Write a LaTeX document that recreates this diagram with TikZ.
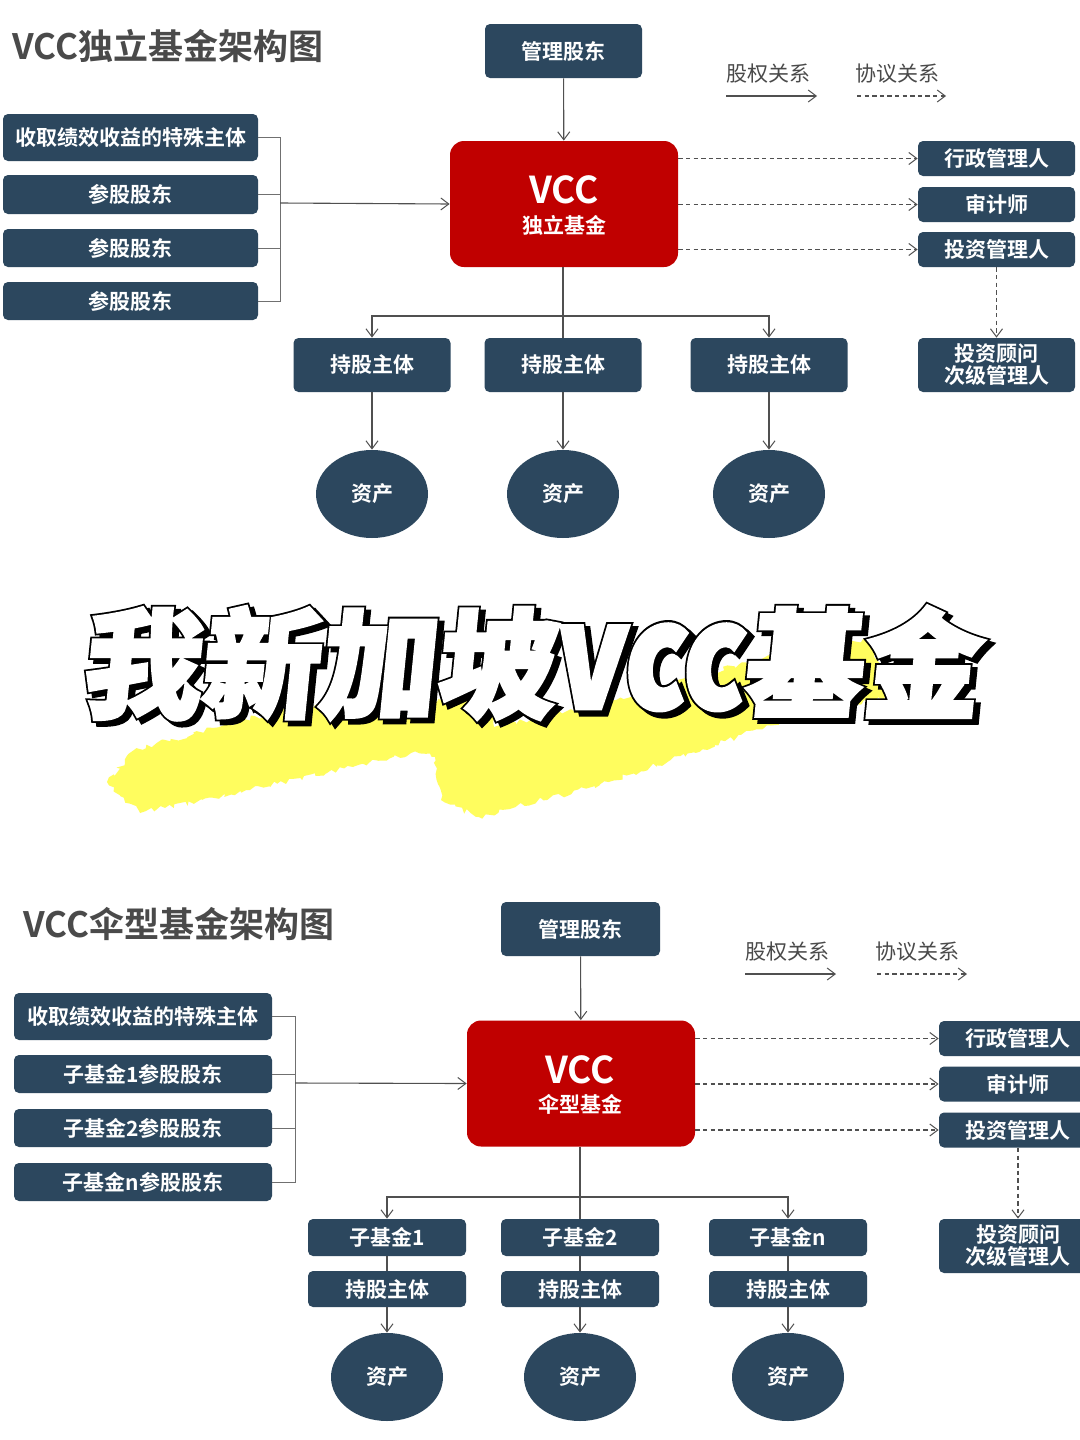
\documentclass[tikz,border=0pt]{standalone}
\usepackage{fontspec}
\usetikzlibrary{arrows.meta,shapes.geometric,decorations.pathmorphing}
\setmainfont{Noto Sans CJK SC}
\newfontfamily\cjkreg{Noto Sans CJK SC}
\newfontfamily\cjkb{Noto Sans CJK SC Bold}
\newfontfamily\bigwhite[FakeSlant=0.1,FakeBold=3]{Noto Sans CJK SC Black}
\newfontfamily\bigblack[FakeSlant=0.1,FakeBold=6]{Noto Sans CJK SC Black}
\newcommand{\bigtext}{我新加坡\scalebox{0.98}[1.22]{vcc}基金}
\definecolor{navy}{HTML}{2C475E}
\definecolor{vred}{HTML}{C00000}
\definecolor{wire}{HTML}{505050}
\definecolor{wirelight}{HTML}{707070}
\definecolor{ttl}{HTML}{4A4A4A}
\definecolor{brush}{HTML}{FFFD5E}
\tikzset{
 >={Straight Barb[length=4pt,width=6pt,line width=.5pt]},
 base/.style={fill=navy,rounded corners=2.5pt,inner sep=0pt,text=white,align=center,font=\cjkb\fontsize{10.5}{12.5}\selectfont},
 box/.style n args={2}{base,minimum width=#1*0.5pt,minimum height=#2*0.5pt},
 asset/.style={ellipse,fill=navy,inner sep=0pt,text=white,minimum width=56pt,minimum height=44pt,font=\cjkb\fontsize{10.5}{12.5}\selectfont},
 fund/.style={fill=vred,rounded corners=7pt,inner sep=0pt,minimum width=114pt,minimum height=63pt,text=white},
 wirel/.style={draw=wire,line width=.55pt},
 bracket/.style={draw=wirelight,line width=.5pt},
 agree/.style={draw=wire,line width=.62pt,dash pattern=on 2.2pt off 1.6pt,->},
 head/.style={text=ttl,inner sep=0pt,font=\cjkb\fontsize{17.5}{20}\selectfont},
 legend/.style={text=ttl,inner sep=0pt,font=\cjkreg\fontsize{10.5}{12.5}\selectfont},
}
\begin{document}
\begin{tikzpicture}[x=0.5pt,y=-0.5pt]
\useasboundingbox (0,0) rectangle (1080,1440);
\clip (0,0) rectangle (1080,1440);
\fill[white] (0,0) rectangle (1080,1440);
% brush
\fill[brush,decorate,decoration={random steps,segment length=2pt,amplitude=1.4pt}]
 (107,782) -- (134,750) -- (300,705) -- (494,700) -- (494,727) -- (614,700) -- (755,660) -- (872,640) -- (885,697) -- (780,722) -- (600,785) -- (478,817) -- (441,800) -- (435,757) -- (411,753) -- (250,790) -- (140,813) -- cycle;
% big title
\node[inner sep=0pt,text=black] (bs) at (535,667) {\bigblack\fontsize{59}{60}\selectfont\bigtext};
\node[inner sep=0pt,text=black] (bt) at (530,663) {\bigblack\fontsize{59}{60}\selectfont\bigtext};
\node[inner sep=0pt,text=white] (bw) at (530,663) {\bigwhite\fontsize{59}{60}\selectfont\bigtext};

%% ---------- upper chart
\node[head,anchor=west] (titleA) at (12,46) {VCC独立基金架构图};
\node[box={157}{54}] (mgrA) at (563.5,51) {管理股东};
\node[fund] (vccA) at (564,204) {};
\node[inner sep=0pt,text=white,font=\cjkb\fontsize{18.5}{22}\selectfont] (vccAa) at (564,190) {VCC};
\node[inner sep=0pt,text=white,font=\cjkb\fontsize{10.5}{12.5}\selectfont] (vccAb) at (564,225) {独立基金};
\node[box={255}{47}] (sA1) at (130.5,137.5) {收取绩效收益的特殊主体};
\node[box={255}{39}] (sA2) at (130.5,194.5) {参股股东};
\node[box={255}{38}] (sA3) at (130.5,248) {参股股东};
\node[box={255}{38}] (sA4) at (130.5,301) {参股股东};
\node[box={157}{35}] (rA1) at (996.5,158.5) {行政管理人};
\node[box={157}{35}] (rA2) at (996.5,204.5) {审计师};
\node[box={157}{35}] (rA3) at (996.5,249.5) {投资管理人};
\node[box={157}{54}] (rA4) at (996.5,365) {投资顾问\\[-1.5pt]次级管理人};
\node[box={157}{54}] (hA1) at (372,365) {持股主体};
\node[box={157}{54}] (hA2) at (563,365) {持股主体};
\node[box={157}{54}] (hA3) at (769,365) {持股主体};
\node[asset] (aA1) at (372,494) {资产};
\node[asset] (aA2) at (563,494) {资产};
\node[asset] (aA3) at (769,494) {资产};
\node[legend] (lgA1) at (768,74) {股权关系};
\node[legend] (lgA2) at (897,74) {协议关系};
\coordinate (lgA1s) at (726,96); \coordinate (lgA1e) at (817,96);
\coordinate (lgA2s) at (857,96); \coordinate (lgA2e) at (946,96);
\coordinate (brA) at (280,203);
\coordinate (busA) at (372,316);
\draw[wirel,->] (lgA1s) -- (lgA1e);
\draw[agree] (lgA2s) -- (lgA2e);
\draw[wirel,->] (mgrA) -- (vccA);
\draw[bracket] (sA1.east) -- (sA1.east -| brA) -- (sA4.east -| brA) -- (sA4.east);
\draw[bracket] (sA2.east) -- (sA2.east -| brA);
\draw[bracket] (sA3.east) -- (sA3.east -| brA);
\draw[wirel,->] (brA) -- (vccA.west);
\draw[agree] (vccA.east |- rA1.west) -- (rA1.west);
\draw[agree] (vccA.east |- rA2.west) -- (rA2.west);
\draw[agree] (vccA.east |- rA3.west) -- (rA3.west);
\draw[agree] (rA3) -- (rA4);
\draw[wirel] (vccA.south -| hA2.north) -- (hA2.north);
\draw[wirel,->] (hA2.north |- busA) -- (busA -| hA1.north) -- (hA1.north);
\draw[wirel,->] (hA2.north |- busA) -- (busA -| hA3.north) -- (hA3.north);
\draw[wirel,->] (hA1) -- (aA1);
\draw[wirel,->] (hA2) -- (aA2);
\draw[wirel,->] (hA3) -- (aA3);

%% ---------- lower chart
\node[head,anchor=west] (titleB) at (23,924) {VCC伞型基金架构图};
\node[box={159}{54}] (mgrB) at (580.5,929) {管理股东};
\node[fund] (vccB) at (581,1083.5) {};
\node[inner sep=0pt,text=white,font=\cjkb\fontsize{18.5}{22}\selectfont] (vccBa) at (580,1070) {VCC};
\node[inner sep=0pt,text=white,font=\cjkb\fontsize{10.5}{12.5}\selectfont] (vccBb) at (580,1104) {伞型基金};
\node[box={258}{47}] (sB1) at (143,1016.5) {收取绩效收益的特殊主体};
\node[box={258}{38}] (sB2) at (143,1074) {子基金1参股股东};
\node[box={258}{38}] (sB3) at (143,1128) {子基金2参股股东};
\node[box={258}{38}] (sB4) at (143,1182) {子基金n参股股东};
\node[box={158}{35}] (rB1) at (1018,1038.5) {行政管理人};
\node[box={158}{35}] (rB2) at (1018,1084) {审计师};
\node[box={158}{35}] (rB3) at (1018,1130) {投资管理人};
\node[box={158}{54}] (rB4) at (1018,1246) {投资顾问\\[-1.5pt]次级管理人};
\node[box={158}{37}] (fB1) at (387,1237.5) {子基金1};
\node[box={158}{37}] (fB2) at (580,1237.5) {子基金2};
\node[box={158}{37}] (fB3) at (788,1237.5) {子基金n};
\node[box={158}{36}] (hB1) at (387,1289) {持股主体};
\node[box={158}{36}] (hB2) at (580,1289) {持股主体};
\node[box={158}{36}] (hB3) at (788,1289) {持股主体};
\node[asset] (aB1) at (387,1377) {资产};
\node[asset] (aB2) at (580,1377) {资产};
\node[asset] (aB3) at (788,1377) {资产};
\node[legend] (lgB1) at (787,952) {股权关系};
\node[legend] (lgB2) at (917,952) {协议关系};
\coordinate (lgB1s) at (745,974); \coordinate (lgB1e) at (836,974);
\coordinate (lgB2s) at (877,974); \coordinate (lgB2e) at (967,974);
\coordinate (brB) at (295,1083);
\coordinate (busB) at (387,1197);
\draw[wirel,->] (lgB1s) -- (lgB1e);
\draw[agree] (lgB2s) -- (lgB2e);
\draw[wirel,->] (mgrB) -- (vccB);
\draw[bracket] (sB1.east) -- (sB1.east -| brB) -- (sB4.east -| brB) -- (sB4.east);
\draw[bracket] (sB2.east) -- (sB2.east -| brB);
\draw[bracket] (sB3.east) -- (sB3.east -| brB);
\draw[wirel,->] (brB) -- (vccB.west);
\draw[agree] (vccB.east |- rB1.west) -- (rB1.west);
\draw[agree] (vccB.east |- rB2.west) -- (rB2.west);
\draw[agree] (vccB.east |- rB3.west) -- (rB3.west);
\draw[agree] (rB3) -- (rB4);
\draw[wirel] (vccB.south -| fB2.north) -- (fB2.north);
\draw[wirel,->] (fB2.north |- busB) -- (busB -| fB1.north) -- (fB1.north);
\draw[wirel,->] (fB2.north |- busB) -- (busB -| fB3.north) -- (fB3.north);
\draw[wirel] (fB1) -- (hB1);
\draw[wirel] (fB2) -- (hB2);
\draw[wirel] (fB3) -- (hB3);
\draw[wirel,->] (hB1) -- (aB1);
\draw[wirel,->] (hB2) -- (aB2);
\draw[wirel,->] (hB3) -- (aB3);
\end{tikzpicture}
\end{document}
